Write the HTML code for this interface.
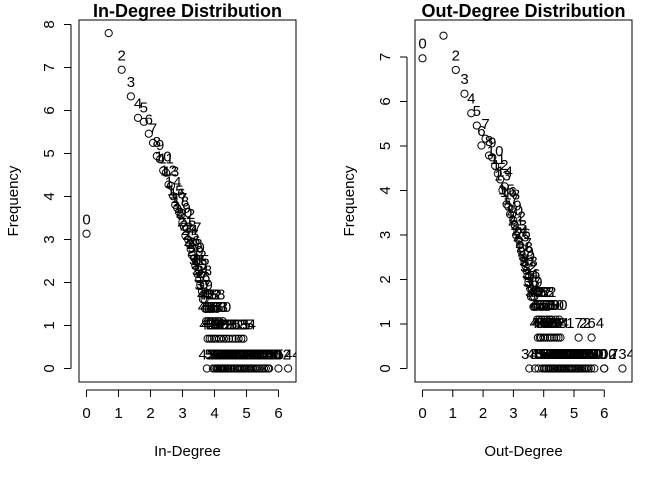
<!DOCTYPE html>
<html><head><meta charset="utf-8"><style>
html,body{margin:0;padding:0;background:#fff}
svg{display:block;font-family:"Liberation Sans",Arial,sans-serif}
</style></head><body>
<svg id="c" width="672" height="480" viewBox="0 0 672 480"></svg>
<script>
// In-degree: counts for degree 0..40, then sparse larger degrees
const inCountsSmall = [23,2440,1040,560,340,310,235,190,140,130,100,95,72,70,55,45,42,38,35,30,27,22,26,20,18,16,14,19,13,11,12,9,10,8,7,9,6,5,7,5,4];
const inLargeK = [42,45,48,52,58, 41,44,47,50,55,60,63,70, 43,46,49,53,56,62,66,72,78,85,95,105,115,125,134,
  42,51,54,57,59,61,64,65,67,69,71,74,76,80,83,88,92,98,102,108,112,118,122,128,136,142,150,158,165,172,180,190,200,212,225,240,255,270,290,300,402,544];
const inLargeC = [4,4,4,4,4, 3,3,3,3,3,3,3,3, 2,2,2,2,2,2,2,2,2,2,2,2,2,2,2,
  1,1,1,1,1,1,1,1,1,1,1,1,1,1,1,1,1,1,1,1,1,1,1,1,1,1,1,1,1,1,1,1,1,1,1,1,1,1,1,1,1,1];
// Out-degree
const outCountsSmall = [1065,1770,820,480,310,235,150,175,120,115,95,80,70,55,60,40,38,32,36,28,25,20,22,18,16,14,15,12,11,10,9,8,7,8,6,5,6,5,4,5,4];
const outLargeK = [42,48,52,58,62, 43,46,50,55,60,65,70,80,90, 44,47,49,53,56,61,66,70,76,82,88,94,172,264,
  33,40,45,51,54,57,59,63,64,67,68,72,75,78,84,88,92,96,100,104,108,112,118,124,130,136,142,150,158,166,175,184,194,205,215,225,240,260,290,400,402,734];
const outLargeC = [4,4,4,4,4, 3,3,3,3,3,3,3,3,3, 2,2,2,2,2,2,2,2,2,2,2,2,2,2,
  1,1,1,1,1,1,1,1,1,1,1,1,1,1,1,1,1,1,1,1,1,1,1,1,1,1,1,1,1,1,1,1,1,1,1,1,1,1,1,1,1,1];
const inXTicks = [0,1,2,3,4,5,6];
const inYTicks = [0,1,2,3,4,5,6,7,8];
const outXTicks = [0,1,2,3,4,5,6];
const outYTicks = [0,1,2,3,4,5,6,7];

const NS='http://www.w3.org/2000/svg';
const svg=document.getElementById('c');
function mk(tag,attrs,parent){const e=document.createElementNS(NS,tag);for(const k in attrs)e.setAttribute(k,attrs[k]);(parent||svg).appendChild(e);return e;}

function panel(o){
  const g=mk('g',{});
  
  
  const sx=v=>o.x0+v*o.kx, sy=v=>o.y0-v*o.ky;
  const cid='clip-'+o.name;
  const cp=mk('clipPath',{id:cid},g);
  mk('rect',{x:o.L,y:o.T,width:o.R-o.L,height:o.B-o.T},cp);
  const pts=mk('g',{'clip-path':'url(#'+cid+')'},g);
  
  
  const all=[];
  o.small.forEach((c,k)=>all.push([k,c]));
  o.lk.forEach((k,i)=>all.push([k,o.lc[i]]));
  all.forEach(([k,c])=>{
    const x=sx(Math.log(k+1)), y=sy(Math.log(c));
    const ci=mk('circle',{cx:x,cy:y,r:3.6,fill:'none',stroke:'#000','stroke-width':1},pts);
    
    
    if(k===1) return;
    const t=mk('text',{x:x,y:y-0.33*o.ky+5,'text-anchor':'middle','font-size':15,fill:'#000'},pts);
    
    
    t.textContent=k;
  });
  const box=mk('rect',{x:o.L,y:o.T,width:o.R-o.L,height:o.B-o.T,fill:'none',stroke:'#000','stroke-width':1},g);
  
  
  const xa=mk('g',{},g);
  
  
  mk('line',{x1:sx(o.xt[0]),x2:sx(o.xt[o.xt.length-1]),y1:o.B+8,y2:o.B+8,stroke:'#000'},xa);
  o.xt.forEach(v=>{
    mk('line',{x1:sx(v),x2:sx(v),y1:o.B+8,y2:o.B+15,stroke:'#000'},xa);
    const t=mk('text',{x:sx(v),y:o.B+36,'text-anchor':'middle','font-size':15},xa);
    
    
    t.textContent=v;
  });
  const ya=mk('g',{},g);
  
  
  mk('line',{x1:o.L-8,x2:o.L-8,y1:sy(o.yt[0]),y2:sy(o.yt[o.yt.length-1]),stroke:'#000'},ya);
  o.yt.forEach(v=>{
    mk('line',{x1:o.L-8,x2:o.L-15,y1:sy(v),y2:sy(v),stroke:'#000'},ya);
    const t=mk('text',{x:0,y:0,'text-anchor':'middle','font-size':15,transform:`translate(${o.L-25},${sy(v)}) rotate(-90)`},ya);
    
    
    t.textContent=v;
  });
  const ti=mk('text',{x:(o.L+o.R)/2,y:17,'text-anchor':'middle','font-size':18,'font-weight':'bold'},g);
  
  
  ti.textContent=o.title;
  const xl=mk('text',{x:(o.L+o.R)/2,y:456,'text-anchor':'middle','font-size':15},g);
  
  
  xl.textContent=o.xlab;
  const yl=mk('text',{x:0,y:0,'text-anchor':'middle','font-size':15,transform:`translate(${o.L-61},${(o.T+o.B)/2}) rotate(-90)`},g);
  
  
  yl.textContent='Frequency';
}
panel({name:'in-degree-panel',title:'In-Degree Distribution',xlab:'In-Degree',L:79,R:296,T:20,B:382,x0:86.5,kx:32,y0:368.5,ky:43,small:inCountsSmall,lk:inLargeK,lc:inLargeC,xt:inXTicks,yt:inYTicks});
panel({name:'out-degree-panel',title:'Out-Degree Distribution',xlab:'Out-Degree',L:415,R:632,T:20,B:382,x0:422.5,kx:30.3,y0:368.5,ky:44.5,small:outCountsSmall,lk:outLargeK,lc:outLargeC,xt:outXTicks,yt:outYTicks});
</script>
</body></html>
